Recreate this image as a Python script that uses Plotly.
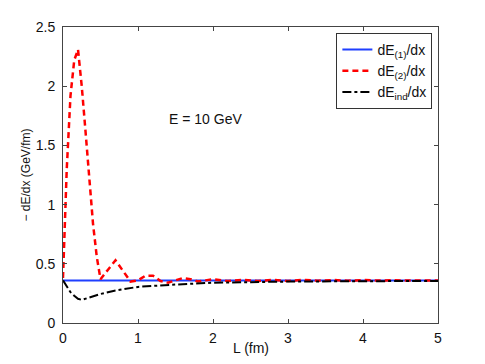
import plotly.graph_objects as go

L_red = [0, 0.05, 0.1, 0.15, 0.2, 0.25, 0.3, 0.35, 0.4, 0.45, 0.5, 0.6, 0.7, 0.8, 0.9, 1.0,
         1.1, 1.2, 1.3, 1.4, 1.5, 1.6, 1.7, 1.8, 1.9, 2.0, 2.2, 2.4, 2.6, 2.8, 3.0, 3.2,
         3.4, 3.6, 3.8, 4.0, 4.2, 4.4, 4.6, 4.8, 5.0]
dE2 = [0.38, 1.30, 1.92, 2.22, 2.31, 2.00, 1.62, 1.24, 0.84, 0.56, 0.37, 0.45, 0.53, 0.44, 0.35, 0.36,
       0.40, 0.40, 0.355, 0.34, 0.36, 0.38, 0.37, 0.35, 0.36, 0.37, 0.355, 0.365, 0.355, 0.365, 0.355, 0.365,
       0.357, 0.363, 0.357, 0.363, 0.358, 0.362, 0.358, 0.362, 0.36]

L_blue = [0, 5]
dE1 = [0.36, 0.36]

L_ind = [0, 0.05, 0.1, 0.15, 0.2, 0.25, 0.3, 0.4, 0.5, 0.7, 1.0, 1.5, 2.0, 2.5, 3.0, 4.0, 5.0]
dEind = [0.36, 0.31, 0.26, 0.23, 0.205, 0.195, 0.205, 0.225, 0.245, 0.275, 0.305, 0.325, 0.34, 0.345, 0.35, 0.353, 0.355]

x_ticks = [0, 1, 2, 3, 4, 5]
y_ticks = [0, 0.5, 1, 1.5, 2, 2.5]
y_tick_labels = ["0", "0.5", "1", "1.5", "2", "2.5"]

fig = go.Figure()
fig.add_trace(go.Scatter(x=L_blue, y=dE1, mode="lines", name="dE<sub>(1)</sub>/dx",
                         line=dict(color="#1f3fff", width=2)))
fig.add_trace(go.Scatter(x=L_red, y=dE2, mode="lines", name="dE<sub>(2)</sub>/dx",
                         line=dict(color="#ff0000", width=2.5, dash="6px,4px")))
fig.add_trace(go.Scatter(x=L_ind, y=dEind, mode="lines", name="dE<sub>ind</sub>/dx",
                         line=dict(color="#000000", width=2, dash="dashdot")))

axis_common = dict(showgrid=False, zeroline=False, ticks="inside", ticklen=4,
                   linecolor="#444444", linewidth=1, mirror="ticks", showline=True,
                   tickcolor="#444444", tickfont=dict(size=14, color="#111111"),
                   automargin=False)

fig.update_layout(
    width=485, height=364,
    margin=dict(l=63, r=47, t=27, b=41),
    paper_bgcolor="white", plot_bgcolor="white",
    font=dict(family="Liberation Sans, Arial, sans-serif", size=13, color="#111111"),
    xaxis=dict(range=[0, 5], tickvals=x_ticks, ticklabelstandoff=2, **axis_common),
    yaxis=dict(range=[0, 2.5], tickvals=y_ticks, ticktext=y_tick_labels, ticklabelstandoff=4,
               title=dict(text="\u2212 dE/dx (GeV/fm)", standoff=2, font=dict(size=12)), **axis_common),
    legend=dict(x=0.985, y=0.98, xanchor="right", yanchor="top", bordercolor="#333333", borderwidth=1,
                bgcolor="white", font=dict(size=14), tracegroupgap=0, itemwidth=30),
    showlegend=True,
    annotations=[
        dict(x=1.9, y=1.72, xref="x", yref="y", text="E = 10 GeV", showarrow=False,
             font=dict(size=14, color="#111111")),
        dict(x=0.5, y=-0.085, xref="paper", yref="paper", text="L (fm)", showarrow=False,
             yanchor="middle", font=dict(size=14, color="#111111")),
    ],
)

fig.write_html("out.html", config={"displayModeBar": False},
               post_script="document.body.style.margin='0';document.body.style.overflow='hidden';")
